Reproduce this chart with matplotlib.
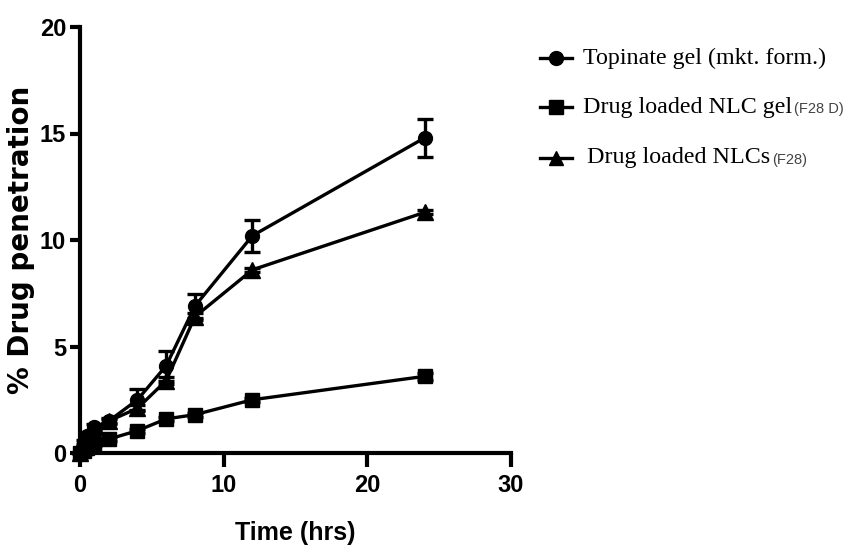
import matplotlib
matplotlib.use("Agg")
import matplotlib.pyplot as plt
from matplotlib.lines import Line2D

# Sampling times (hrs)
time_hrs = [0, 0.25, 0.5, 1, 2, 4, 6, 8, 12, 24]

# % drug penetration for each formulation
topinate_gel = [0, 0.5, 0.8, 1.2, 1.5, 2.5, 4.1, 6.9, 10.2, 14.8]
topinate_err = [0, 0.1, 0.1, 0.15, 0.15, 0.5, 0.7, 0.55, 0.75, 0.9]
nlc_gel = [0, 0.1, 0.25, 0.4, 0.65, 1.05, 1.6, 1.8, 2.5, 3.6]
nlc_gel_err = [0, 0.05, 0.05, 0.05, 0.1, 0.1, 0.1, 0.1, 0.1, 0.15]
nlcs = [0, 0.3, 0.6, 1.0, 1.5, 2.1, 3.4, 6.4, 8.6, 11.3]
nlcs_err = [0, 0.05, 0.05, 0.1, 0.1, 0.15, 0.15, 0.15, 0.1, 0.1]

legend_main = ["Topinate gel (mkt. form.)", "Drug loaded NLC gel", "Drug loaded NLCs"]
legend_suffix = ["", "(F28 D)", "(F28)"]
legend_markers = ["o", "s", "^"]

x_ticks = [0, 10, 20, 30]
y_ticks = [0, 5, 10, 15, 20]

SANS = "Liberation Sans"
W, H = 845, 551
fig = plt.figure(figsize=(W / 100, H / 100), dpi=100)
ax = fig.add_axes([80 / W, (H - 453) / H, (511 - 80) / W, (453 - 27) / H])

lw = 2.4
series = [
    (topinate_gel, topinate_err, "o", 10),
    (nlc_gel, nlc_gel_err, "s", 10.5),
    (nlcs, nlcs_err, "^", 11),
]
for vals, errs, mk, ms in series:
    ax.errorbar(time_hrs, vals, yerr=errs, color="black", lw=lw, marker=mk,
                markersize=ms, capsize=6, capthick=2.4, elinewidth=2.4,
                clip_on=False, zorder=3)

ax.set_xlim(0, 30)
ax.set_ylim(0, 20)
ax.set_xticks(x_ticks)
ax.set_yticks(y_ticks)
for side in ("top", "right"):
    ax.spines[side].set_visible(False)
for side in ("left", "bottom"):
    ax.spines[side].set_linewidth(3)
ax.tick_params(axis="y", direction="out", length=7, width=3, pad=3)
ax.tick_params(axis="x", direction="out", length=10, width=3, pad=5)
for lab in ax.get_xticklabels() + ax.get_yticklabels():
    lab.set_fontfamily(SANS)
    lab.set_fontweight("bold")
    lab.set_fontsize(17)

ax.set_xlabel("Time (hrs)", fontfamily=SANS, fontweight="bold", fontsize=18)
ax.xaxis.set_label_coords(0.499, -0.16)
ax.set_ylabel("% Drug penetration", fontfamily="DejaVu Sans", fontweight="bold",
              fontsize=20)
ax.yaxis.set_label_coords(-0.105, 0.5)

# Legend drawn by hand: serif label plus small grey batch code
rows_y = [58, 107, 158]
text_x = [583, 583, 587]
for i, yy in enumerate(rows_y):
    yf = 1 - yy / H
    fig.add_artist(Line2D([540 / W, 572 / W], [yf, yf], color="black", lw=lw,
                          transform=fig.transFigure))
    fig.add_artist(Line2D([556 / W], [yf], color="black", marker=legend_markers[i],
                          markersize=10, transform=fig.transFigure))
    t = fig.text(text_x[i] / W, yf, legend_main[i], fontfamily="Liberation Serif",
                 fontsize=17.3, va="center", ha="left")
    if legend_suffix[i]:
        fig.canvas.draw()
        bb = t.get_window_extent()
        fig.text((bb.x1 + 2) / W, yf - 2 / H, legend_suffix[i], fontfamily=SANS,
                 fontsize=10.5, color="#444444", va="center", ha="left")

fig.savefig("out.png", dpi=100)
